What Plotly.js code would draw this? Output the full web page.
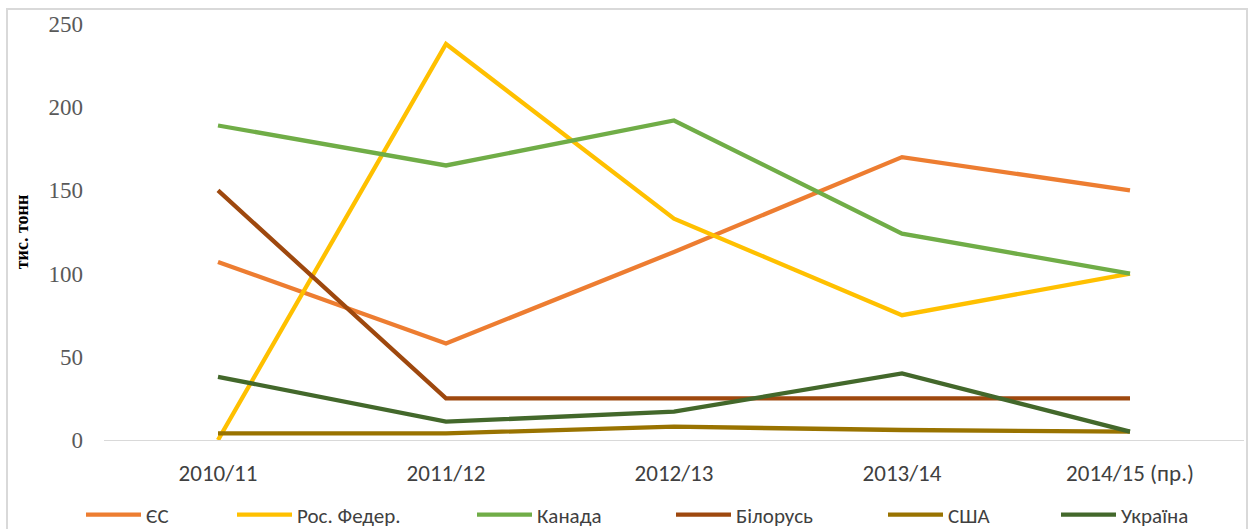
<!DOCTYPE html>
<html>
<head>
<meta charset="utf-8">
<script src="https://cdn.plot.ly/plotly-3.0.1.min.js"></script>
<style>
  html, body { margin: 0; padding: 0; background: #fff; overflow: hidden; }
  #wrap { position: relative; width: 1253px; height: 529px; }
  #chart { position: absolute; left: 0; top: 0; width: 1253px; height: 529px; }
  #frame { position: absolute; left: 6px; top: 8px; width: 1242px; height: 560px;
           border: 2px solid #d9d9d9; pointer-events: none; box-sizing: border-box; }
</style>
</head>
<body>
<div id="wrap">
  <div id="chart"></div>
  <div id="frame"></div>
</div>
<script>
const categories = ["2010/11", "2011/12", "2012/13", "2013/14", "2014/15 (пр.)"];
const seriesNames = ["ЄС", "Рос. Федер.", "Канада", "Білорусь", "США", "Україна"];
const euValues      = [107, 58, 113, 170, 150];
const russiaValues  = [0, 238, 133, 75, 100];
const canadaValues  = [189, 165, 192, 124, 100];
const belarusValues = [150, 25, 25, 25, 25];
const usaValues     = [4, 4, 8, 6, 5];
const ukraineValues = [38, 11, 17, 40, 5];
const yTickValues = [0, 50, 100, 150, 200, 250];
const yTitle = "тис. тонн";

const allValues = [euValues, russiaValues, canadaValues, belarusValues, usaValues, ukraineValues];
const colors = ["#ED7D31", "#FFC000", "#70AD47", "#9E480E", "#997300", "#43682B"];
const legendTextX = [147, 298, 538, 737, 949, 1122];
const sansFont = "Carlito, Lato, Open Sans, sans-serif";
const serifFont = "Liberation Serif, DejaVu Serif, serif";

const traces = allValues.map((vals, i) => ({
  type: "scatter",
  mode: "lines",
  x: categories,
  y: vals,
  name: seriesNames[i],
  line: { color: colors[i], width: 4.3 },
  legend: i === 0 ? "legend" : "legend" + (i + 1)
}));

const layout = {
  width: 1253,
  height: 529,
  margin: { l: 104, r: 9, t: 24, b: 89 },
  paper_bgcolor: "#ffffff",
  plot_bgcolor: "#ffffff",
  showlegend: true,
  xaxis: {
    type: "category",
    range: [-0.5, 4.5],
    showgrid: false,
    zeroline: false,
    showline: false,
    ticks: "",
    ticklabelstandoff: 17,
    tickfont: { family: sansFont, size: 23, color: "#404040" }
  },
  yaxis: {
    range: [0, 250],
    tickvals: yTickValues,
    showgrid: false,
    zeroline: true,
    zerolinecolor: "#d9d9d9",
    zerolinewidth: 1,
    showline: false,
    ticks: "",
    ticklabelstandoff: 20,
    tickfont: { family: serifFont, size: 23, color: "#595959" },
    title: { text: yTitle, standoff: 15,
             font: { family: serifFont, size: 18, color: "#000000", weight: "bold" } }
  }
};

legendTextX.forEach((px, i) => {
  const key = i === 0 ? "legend" : "legend" + (i + 1);
  layout[key] = {
    x: (px - 66) / 1253,
    y: 1 - 515 / 529,
    xref: "container",
    yref: "container",
    xanchor: "left",
    yanchor: "middle",
    orientation: "h",
    itemwidth: 55,
    bgcolor: "rgba(0,0,0,0)",
    borderwidth: 0,
    font: { family: sansFont, size: 21, color: "#404040" }
  };
});

Plotly.newPlot("chart", traces, layout, { displayModeBar: false, staticPlot: true });
</script>
</body>
</html>
